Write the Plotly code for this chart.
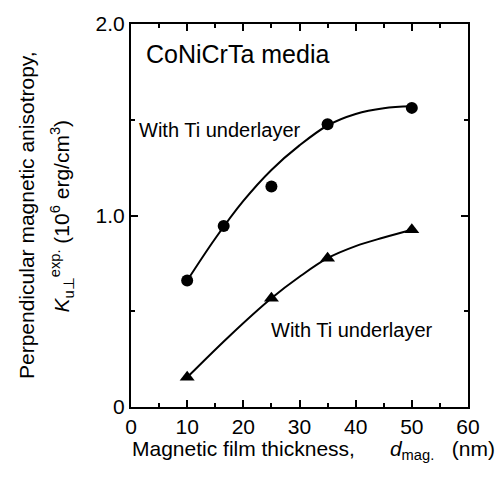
import plotly.graph_objects as go

# measured data
d_circle = [10, 16.5, 25, 35, 50]
k_circle = [0.66, 0.945, 1.152, 1.477, 1.562]
d_tri = [10, 25, 35, 50]
k_tri = [0.155, 0.568, 0.777, 0.926]

# guide-to-eye curves
d_fit_c = [10, 15, 20, 25, 30, 35, 40, 45, 50]
k_fit_c = [0.66, 0.88, 1.076, 1.238, 1.366, 1.47, 1.53, 1.56, 1.57]
d_fit_t = [10, 17.5, 25, 30, 35, 40, 45, 50]
k_fit_t = [0.155, 0.37, 0.568, 0.68, 0.777, 0.84, 0.885, 0.926]

x_ticks = [0, 10, 20, 30, 40, 50, 60]
y_ticks = [0, 1, 2]
y_ticktext = ["0", "1.0", "2.0"]

FONT = "Liberation Sans, Arial, sans-serif"

fig = go.Figure()
fig.add_trace(go.Scatter(x=d_fit_c, y=k_fit_c, mode="lines", line=dict(color="black", width=2, shape="spline"), showlegend=False, hoverinfo="skip"))
fig.add_trace(go.Scatter(x=d_fit_t, y=k_fit_t, mode="lines", line=dict(color="black", width=2, shape="spline"), showlegend=False, hoverinfo="skip"))
fig.add_trace(go.Scatter(x=d_circle, y=k_circle, mode="markers", marker=dict(symbol="circle", size=12, color="black"), showlegend=False))
fig.add_trace(go.Scatter(x=d_tri, y=k_tri, mode="markers", marker=dict(symbol="triangle-up", size=13, color="black"), showlegend=False))

axis_common = dict(
    showline=True, linecolor="black", linewidth=2, mirror="ticks",
    ticks="inside", ticklen=7, tickwidth=2, tickcolor="black",
    showgrid=False, zeroline=False,
    tickfont=dict(family=FONT, size=21, color="black"),
)

fig.update_xaxes(
    range=[0, 60], tickvals=x_ticks,
    minor=dict(dtick=5, ticks="inside", ticklen=4, tickwidth=2, tickcolor="black"),
    **axis_common,
)
fig.update_yaxes(
    range=[0, 2], tickvals=y_ticks, ticktext=y_ticktext,
    minor=dict(tickvals=[0.5, 1.5], ticks="inside", ticklen=4, tickwidth=2, tickcolor="black"),
    **axis_common,
)

fig.add_annotation(text="Magnetic film thickness,      <i>d</i><sub>mag.</sub>   (nm)", xref="paper", yref="paper",
                   x=-0.004, y=-0.113, showarrow=False, xanchor="left", yanchor="middle",
                   font=dict(family=FONT, size=21, color="black"))
fig.add_annotation(text="Perpendicular magnetic anisotropy,", xref="paper", yref="paper",
                   x=-0.31, y=0.5, textangle=-90, showarrow=False, xanchor="center", yanchor="middle",
                   font=dict(family=FONT, size=21, color="black"))
fig.add_annotation(text="<i>K</i><sub>u⊥</sub><sup>exp.</sup> (10<sup>6</sup> erg/cm<sup>3</sup>)", xref="paper", yref="paper",
                   x=-0.205, y=0.5, textangle=-90, showarrow=False, xanchor="center", yanchor="middle",
                   font=dict(family=FONT, size=21, color="black"))

fig.add_annotation(text="CoNiCrTa media", x=2.4, y=1.845, xanchor="left", yanchor="middle", showarrow=False,
                   font=dict(family=FONT, size=25, color="black"))
fig.add_annotation(text="With Ti underlayer", x=1.0, y=1.445, xanchor="left", yanchor="middle", showarrow=False,
                   font=dict(family=FONT, size=20, color="black"))
fig.add_annotation(text="With Ti underlayer", x=24.5, y=0.40, xanchor="left", yanchor="middle", showarrow=False,
                   font=dict(family=FONT, size=20, color="black"))

fig.update_layout(
    width=502, height=477,
    margin=dict(l=131, r=34, t=16, b=70),
    paper_bgcolor="white", plot_bgcolor="white",
)

fig.write_html("out.html")
